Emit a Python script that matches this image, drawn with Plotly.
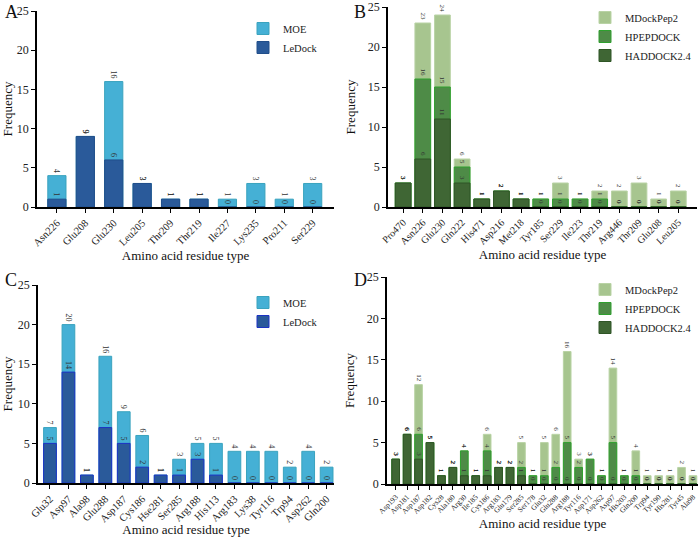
import plotly.graph_objects as go

# Panel A
a_res = ["Asn226", "Glu208", "Glu230", "Leu205", "Thr209", "Thr219", "Ile227", "Lys235", "Pro211", "Ser229"]
a_moe = [4, 9, 16, 3, 1, 1, 1, 3, 1, 3]
a_ledock = [1, 9, 6, 3, 1, 1, 0, 0, 0, 0]

# Panel B
b_res = ["Pro470", "Asn226", "Glu230", "Gln222", "His471", "Asp216", "Met218", "Tyr185", "Ser229",
         "Ile223", "Thr219", "Arg446", "Thr209", "Glu208", "Leu205"]
b_mdock = [3, 23, 24, 6, 1, 2, 1, 1, 3, 1, 2, 2, 3, 1, 2]
b_hpep = [3, 16, 15, 5, 1, 2, 1, 1, 1, 1, 1, 0, 0, 0, 0]
b_hadd = [3, 6, 11, 3, 1, 2, 1, 0, 0, 0, 0, 0, 0, 0, 0]

# Panel C
c_res = ["Glu32", "Asp97", "Ala98", "Glu288", "Asp187", "Cys186", "Hse281", "Ser285", "Arg188",
         "His113", "Arg183", "Lys38", "Tyr116", "Trp94", "Asp262", "Gln200"]
c_moe = [7, 20, 1, 16, 9, 6, 1, 3, 5, 5, 4, 4, 4, 2, 4, 2]
c_ledock = [5, 14, 1, 7, 5, 2, 1, 1, 3, 1, 0, 0, 0, 0, 0, 0]

# Panel D
d_res = ["Asp193", "Asp181", "Asp187", "Asp182", "Cys28", "Ala180", "Arg30", "Ile185", "Cys186",
         "Arg183", "Glu179", "Ser285", "Ser178", "Glu32", "Glu288", "Arg188", "Tyr116", "Asp171",
         "Asp262", "Asp97", "His203", "Gln200", "Trp94", "Tyr190", "His281", "Tyr45", "Ala98"]
d_mdock = [3, 6, 12, 5, 1, 2, 4, 1, 6, 2, 2, 5, 1, 5, 6, 16, 3, 3, 1, 14, 1, 4, 1, 1, 1, 2, 1]
d_hpep = [3, 6, 6, 5, 1, 2, 4, 1, 4, 2, 2, 2, 1, 1, 2, 5, 2, 3, 1, 5, 1, 1, 0, 0, 0, 0, 0]
d_hadd = [3, 6, 3, 5, 1, 2, 1, 1, 1, 2, 2, 1, 0, 0, 0, 0, 0, 0, 0, 0, 0, 0, 0, 0, 0, 0, 0]

FONT = "Liberation Serif"
MOE_C = "#45B0D5"
LED_C = "#2A5A9A"
MDK_C = "#A7C58F"
HPE_C = "#4E8B47"
HAD_C = "#3F6634"

fig = go.Figure()


def add_bar(x, y, name, color, edge, xa, ya, legend, width, tsize):
    fig.add_trace(go.Bar(
        x=x, y=y, name=name, marker=dict(color=color, line=dict(color=edge, width=1)),
        xaxis=xa, yaxis=ya, legend=legend, width=width,
        text=[str(v) for v in y], textposition="outside", textangle=90,
        textfont=dict(family=FONT, size=tsize, color="#333333"), cliponaxis=False,
    ))


add_bar(a_res, a_moe, "MOE", MOE_C, "#3AA3BE", "x", "y", "legend", 0.64, 8)
add_bar(a_res, a_ledock, "LeDock", LED_C, "#214E8A", "x", "y", "legend", 0.64, 8)

add_bar(b_res, b_mdock, "MDockPep2", MDK_C, "#B9D3A5", "x2", "y2", "legend2", 0.8, 7)
add_bar(b_res, b_hpep, "HPEPDOCK", HPE_C, "#2EA02E", "x2", "y2", "legend2", 0.8, 7)
add_bar(b_res, b_hadd, "HADDOCK2.4", HAD_C, "#2F5526", "x2", "y2", "legend2", 0.8, 7)

add_bar(c_res, c_moe, "MOE", MOE_C, "#3AA3BE", "x3", "y3", "legend3", 0.69, 8)
add_bar(c_res, c_ledock, "LeDock", LED_C, "#1C32C4", "x3", "y3", "legend3", 0.69, 8)

add_bar(d_res, d_mdock, "MDockPep2", MDK_C, "#B9D3A5", "x4", "y4", "legend4", 0.67, 7)
add_bar(d_res, d_hpep, "HPEPDOCK", HPE_C, "#2EA02E", "x4", "y4", "legend4", 0.67, 7)
add_bar(d_res, d_hadd, "HADDOCK2.4", HAD_C, "#2F5526", "x4", "y4", "legend4", 0.67, 7)

W, H = 700, 537


def xax(d, rng, tsize, anchor):
    return dict(domain=d, range=rng, anchor=anchor, showline=True, linecolor="black", linewidth=1.5,
                ticks="outside", ticklen=4, tickcolor="black", tickangle=-45, showgrid=False,
                automargin=False,
                tickfont=dict(family=FONT, size=tsize, color="#222"),
                title=dict(text="Amino acid residue type", font=dict(family=FONT, size=13, color="#111"), standoff=1))


def yax(d, anchor):
    return dict(domain=d, range=[0, 25], anchor=anchor, showline=True, linecolor="black", linewidth=1.5,
                ticks="outside", ticklen=4, tickcolor="black", dtick=5, showgrid=False, zeroline=False,
                automargin=False,
                tickfont=dict(family=FONT, size=12, color="#222"),
                title=dict(text="Frequency", font=dict(family=FONT, size=13, color="#111"), standoff=9))


fig.update_layout(
    width=W, height=H, margin=dict(l=0, r=0, t=0, b=0, autoexpand=False),
    plot_bgcolor="white", paper_bgcolor="white",
    barmode="overlay", font=dict(family=FONT),
    xaxis=xax([37 / W, 334 / W], [-0.7, 9.75], 10.5, "y"),
    yaxis=yax([1 - 207 / H, 1 - 11 / H], "x"),
    xaxis2=xax([388 / W, 697 / W], [-0.77, 14.95], 10, "y2"),
    yaxis2=yax([1 - 207 / H, 1 - 7 / H], "x2"),
    xaxis3=xax([38 / W, 334 / W], [-0.65, 15.4], 10.5, "y3"),
    yaxis3=yax([1 - 483 / H, 1 - 285 / H], "x3"),
    xaxis4=xax([387 / W, 698 / W], [-0.76, 26.44], 7.5, "y4"),
    yaxis4=yax([1 - 484 / H, 1 - 277 / H], "x4"),
)

leg = dict(font=dict(family=FONT, size=10.5, color="#222"), bgcolor="rgba(0,0,0,0)",
           xanchor="left", yanchor="top", itemwidth=30, tracegroupgap=0)
fig.update_layout(
    legend=dict(leg, x=243 / W, y=1 - 14 / H),
    legend2=dict(leg, x=585 / W, y=1 - 3 / H),
    legend3=dict(leg, x=243 / W, y=1 - 288 / H),
    legend4=dict(leg, x=585 / W, y=1 - 275 / H),
    showlegend=True,
)

for letter, px, py in [("A", 3, 0), ("B", 352, 0), ("C", 3, 268), ("D", 352, 268)]:
    fig.add_annotation(text=letter, x=px / W, y=1 - py / H, xref="paper", yref="paper",
                       xanchor="left", yanchor="top", showarrow=False,
                       font=dict(family=FONT, size=18, color="#111"))

fig.write_html("out.html", config={"displayModeBar": False},
               post_script="document.body.style.margin='0';document.body.style.overflow='hidden';")
